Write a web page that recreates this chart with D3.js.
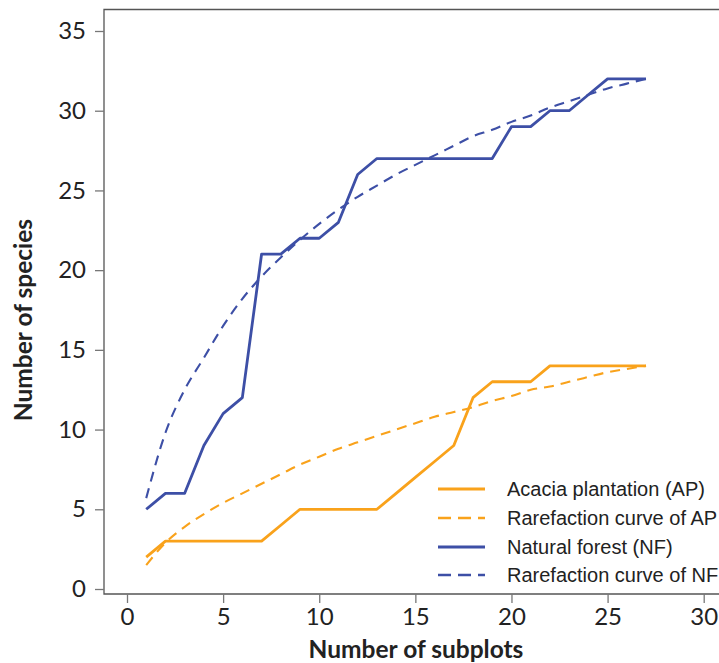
<!DOCTYPE html>
<html>
<head>
<meta charset="utf-8">
<script src="https://cdn.jsdelivr.net/npm/d3@7"></script>
<style>
  html, body { margin: 0; padding: 0; background: #fff; }
  svg { display: block; }
</style>
</head>
<body>
<svg id="chart" width="719" height="663"></svg>
<script>
// ---- data ----
const subplots = d3.range(1, 28); // 1..27
const apObserved = [2,3,3,3,3,3,3,4,5,5,5,5,5,6,7,8,9,12,13,13,13,14,14,14,14,14,14];
const apRarefaction = [1.5,2.9,3.9,4.7,5.4,6.0,6.6,7.2,7.8,8.3,8.8,9.2,9.6,10.0,10.4,10.8,11.1,11.4,11.8,12.1,12.5,12.7,13.0,13.3,13.6,13.8,14.0];
const nfObserved = [5,6,6,9,11,12,21,21,22,22,23,26,27,27,27,27,27,27,27,29,29,30,30,31,32,32,32];
const nfRarefaction = [5.7,9.8,12.5,14.5,16.5,18.2,19.6,20.8,21.9,22.9,23.8,24.6,25.3,26.0,26.6,27.2,27.8,28.4,28.8,29.3,29.7,30.2,30.6,31.0,31.4,31.7,32.0];
const xTicks = [0,5,10,15,20,25,30];
const yTicks = [0,5,10,15,20,25,30,35];
const legendLabels = ["Acacia plantation (AP)", "Rarefaction curve of AP", "Natural forest (NF)", "Rarefaction curve of NF"];

const ORANGE = "#F9A21B";
const BLUE = "#3D4FA6";

const svg = d3.select("#chart");

const x = d3.scaleLinear().domain([0, 30]).range([127, 703.7]);
const y = d3.scaleLinear().domain([0, 35]).range([589, 31]);

const frameL = 104, frameT = 9.5, frameB = 594, frameR = 719;

// frame
svg.append("path")
  .attr("d", `M${frameR},${frameT}H${frameL}V${frameB}H${frameR}`)
  .attr("fill", "none").attr("stroke", "#555").attr("stroke-width", 1.3);

// axes
const xAxis = svg.append("g").attr("transform", `translate(0,${frameB})`)
  .call(d3.axisBottom(x).tickValues(xTicks).tickSize(9).tickPadding(5).tickSizeOuter(0));
const yAxis = svg.append("g").attr("transform", `translate(${frameL},0)`)
  .call(d3.axisLeft(y).tickValues(yTicks).tickSize(9).tickPadding(9).tickSizeOuter(0));
[xAxis, yAxis].forEach(g => {
  g.select(".domain").remove();
  g.selectAll(".tick line").attr("stroke", "#777").attr("stroke-width", 1.3);
  g.selectAll(".tick text").attr("fill", "#222")
    .style("font-family", "Lato, 'Open Sans', sans-serif").style("font-size", "24px");
});

// lines
const rows = subplots.map((s, i) => ({s, ap: apObserved[i], apr: apRarefaction[i], nf: nfObserved[i], nfr: nfRarefaction[i]}));
const lineFor = (key, curve) => d3.line().x(d => x(d.s)).y(d => y(d[key])).curve(curve);

const series = [
  {key: "ap", color: ORANGE, dash: null, w: 2.8, curve: d3.curveLinear},
  {key: "apr", color: ORANGE, dash: "10,7", w: 2.1, curve: d3.curveMonotoneX},
  {key: "nf", color: BLUE, dash: null, w: 2.8, curve: d3.curveLinear},
  {key: "nfr", color: BLUE, dash: "10,7", w: 2.1, curve: d3.curveMonotoneX}
];
series.forEach(s => {
  svg.append("path").datum(rows)
    .attr("d", lineFor(s.key, s.curve))
    .attr("fill", "none").attr("stroke", s.color).attr("stroke-width", s.w)
    .attr("stroke-dasharray", s.dash).attr("stroke-linejoin", "round");
});

// legend
const legend = svg.append("g");
const legY = [489, 518, 547, 575];
series.forEach((s, i) => {
  legend.append("line").attr("x1", 438).attr("x2", 485).attr("y1", legY[i]).attr("y2", legY[i])
    .attr("stroke", s.color).attr("stroke-width", s.dash ? 2.5 : 2.8)
    .attr("stroke-dasharray", s.dash ? "13,7" : null);
  legend.append("text").attr("x", 507).attr("y", legY[i]).attr("dy", "0.36em")
    .text(legendLabels[i])
    .style("font-family", "'Liberation Sans', Arial, sans-serif").style("font-size", "20px").attr("fill", "#222");
});

// axis titles
svg.append("text").attr("x", 416).attr("y", 658).attr("text-anchor", "middle")
  .text("Number of subplots")
  .style("font-family", "Lato, sans-serif").style("font-weight", "bold").style("font-size", "24.5px").attr("fill", "#222");
svg.append("text").attr("transform", "translate(32,320) rotate(-90)").attr("text-anchor", "middle")
  .text("Number of species")
  .style("font-family", "Lato, sans-serif").style("font-weight", "bold").style("font-size", "24.5px").attr("fill", "#222");
</script>
</body>
</html>
